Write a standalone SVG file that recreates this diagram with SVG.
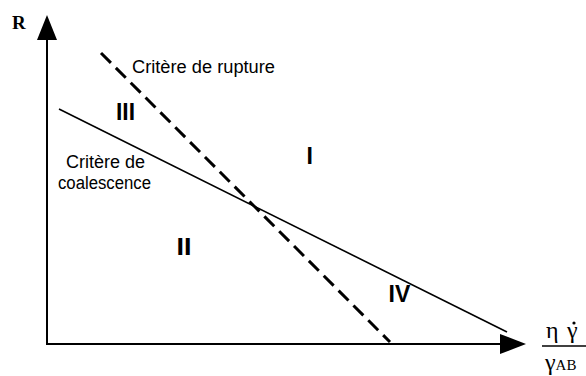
<svg xmlns="http://www.w3.org/2000/svg" width="586" height="376" viewBox="0 0 586 376">
<style>
.ax{stroke:#000;stroke-width:2;fill:none}
.lab{font-family:"Liberation Sans",Arial,sans-serif;font-size:18px;fill:#000}
.reg{font-family:"Liberation Sans",Arial,sans-serif;font-size:23px;font-weight:bold;fill:#000}
.ser{font-family:"Liberation Serif","Times New Roman",serif;fill:#000}
</style>
<rect width="586" height="376" fill="#fff"/>
<g id="axes">
<line class="ax" x1="47" y1="345" x2="47" y2="38"/>
<polygon points="47,15 37,40 57,40" fill="#000"/>
<line class="ax" x1="46" y1="344" x2="502" y2="344"/>
<polygon points="526,344 500,334 500,354" fill="#000"/>
</g>
<g id="connectors">
<line x1="59" y1="109" x2="507" y2="332" stroke="#000" stroke-width="1.6"/>
<line x1="101" y1="53" x2="390" y2="342" stroke="#000" stroke-width="3" stroke-dasharray="14,7"/>
</g>
<g id="labels">
<text class="ser" x="12" y="29" font-size="19" font-weight="bold">R</text>
<text class="lab" x="132" y="73" textLength="143" lengthAdjust="spacingAndGlyphs">Critère de rupture</text>
<text class="lab" x="66" y="168" font-size="17" textLength="79" lengthAdjust="spacingAndGlyphs">Critère de</text>
<text class="lab" x="58" y="189" font-size="17" textLength="93" lengthAdjust="spacingAndGlyphs">coalescence</text>
<text class="reg" x="116" y="120" font-size="17" textLength="19" lengthAdjust="spacingAndGlyphs">III</text>
<text class="reg" x="306.5" y="164">I</text>
<text class="reg" x="176.5" y="255" textLength="15" lengthAdjust="spacingAndGlyphs">II</text>
<text class="reg" x="388.5" y="302">IV</text>
</g>
<g id="fraction">
<text class="ser" x="546" y="338" font-size="24">η</text>
<text class="ser" x="567" y="338" font-size="24">γ</text>
<circle cx="574" cy="323" r="1.6" fill="#000"/>
<line x1="542" y1="346" x2="586" y2="346" stroke="#000" stroke-width="1.5"/>
<text class="ser" x="545" y="370" font-size="24">γ<tspan font-size="15">AB</tspan></text>
</g>
</svg>
